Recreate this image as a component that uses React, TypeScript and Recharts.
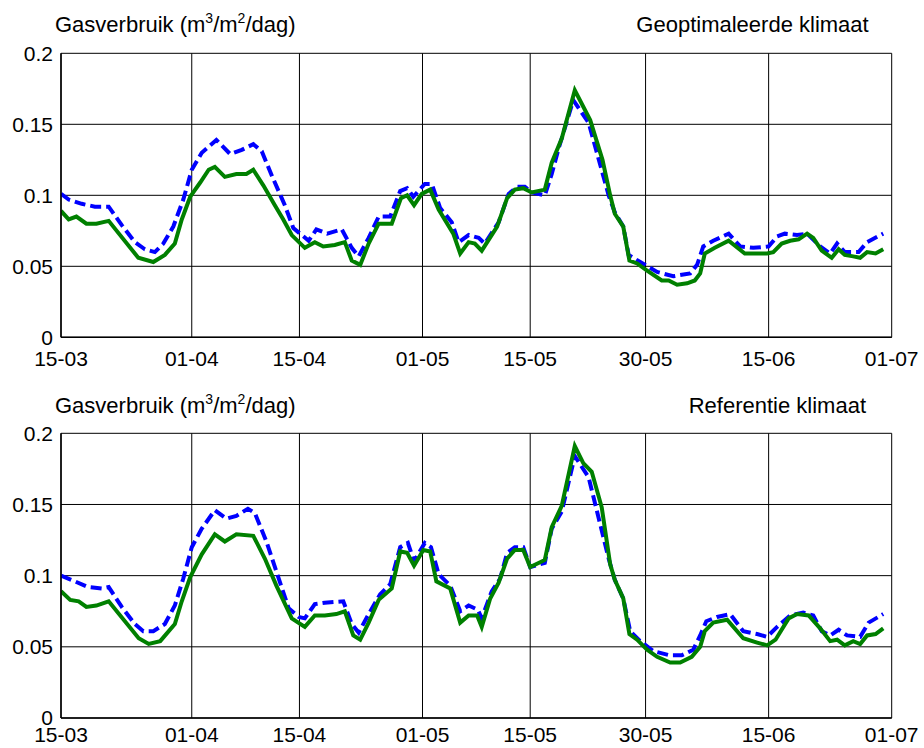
import React from 'react';
import { LineChart, Line, XAxis, YAxis, CartesianGrid } from 'recharts';

const FONT = '"Liberation Sans", Arial, Helvetica, sans-serif';

const tickDays = [0, 17, 31, 47, 61, 76, 92, 108];
const tickLabels = ['15-03', '01-04', '15-04', '01-05', '15-05', '30-05', '15-06', '01-07'];
const yTicks = [0, 0.05, 0.1, 0.15, 0.2];

const panelTitles = ['Geoptimaleerde klimaat', 'Referentie klimaat'];

// Top panel (Geoptimaleerde klimaat)
const topGreenDays = [0, 1.0, 2.0, 3.3, 4.6, 6.2, 10.05, 12.0, 13.5, 14.8, 15.7, 16.8, 18.1, 19.2, 20.0, 21.3, 22.8, 24.1, 25.0, 26.3, 27.8, 28.9, 30.0, 31.7, 33.0, 34.1, 35.6, 36.9, 37.8, 38.9, 40.0, 41.3, 43.0, 44.2, 45.0, 45.9, 46.9, 48.0, 49.1, 51.0, 51.9, 53.0, 53.8, 54.7, 56.7, 58.0, 59.0, 60.1, 61.2, 62.9, 63.8, 65.1, 66.8, 68.8, 70.4, 71.4, 72.0, 73.1, 73.9, 74.9, 76.2, 78.1, 79.0, 80.1, 81.4, 82.4, 83.1, 83.7, 85.0, 86.8, 88.9, 91.8, 92.6, 93.7, 94.8, 95.9, 97.0, 97.8, 98.9, 100.2, 101.1, 101.9, 103.0, 103.9, 104.8, 105.9, 106.9];
const topGreenValues = [0.089, 0.083, 0.085, 0.080, 0.080, 0.082, 0.056, 0.053, 0.058, 0.066, 0.083, 0.099, 0.109, 0.118, 0.120, 0.113, 0.115, 0.115, 0.118, 0.107, 0.093, 0.083, 0.072, 0.063, 0.067, 0.064, 0.065, 0.067, 0.054, 0.051, 0.066, 0.080, 0.080, 0.098, 0.100, 0.093, 0.101, 0.104, 0.090, 0.073, 0.059, 0.067, 0.066, 0.061, 0.078, 0.098, 0.104, 0.105, 0.102, 0.104, 0.123, 0.140, 0.174, 0.153, 0.125, 0.100, 0.087, 0.078, 0.054, 0.052, 0.047, 0.040, 0.040, 0.037, 0.038, 0.040, 0.045, 0.059, 0.063, 0.068, 0.059, 0.059, 0.060, 0.066, 0.068, 0.069, 0.073, 0.070, 0.061, 0.056, 0.062, 0.058, 0.057, 0.056, 0.060, 0.059, 0.062];

const topBlueDays = [0, 1.0, 2.7, 4.4, 6.2, 7.9, 9.6, 10.9, 12.2, 13.3, 14.6, 15.9, 17.0, 18.3, 20.2, 22.0, 23.5, 25.0, 26.1, 27.4, 29.1, 30.2, 32.2, 33.2, 34.6, 36.5, 37.8, 38.7, 40.0, 41.3, 42.8, 44.1, 45.0, 45.8, 47.3, 48.2, 49.3, 50.8, 51.7, 53.0, 54.3, 55.1, 56.9, 58.2, 59.3, 60.3, 61.2, 62.9, 63.8, 64.7, 66.6, 68.6, 71.2, 72.0, 73.1, 73.8, 75.3, 77.5, 79.6, 81.8, 82.7, 83.5, 84.8, 86.8, 88.3, 90.0, 92.0, 93.1, 94.1, 95.7, 97.0, 98.7, 100.0, 100.9, 101.9, 103.7, 104.8, 106.9];
const topBlueValues = [0.101, 0.097, 0.094, 0.092, 0.092, 0.079, 0.067, 0.062, 0.060, 0.066, 0.078, 0.097, 0.118, 0.130, 0.139, 0.129, 0.132, 0.136, 0.131, 0.114, 0.093, 0.077, 0.068, 0.076, 0.073, 0.076, 0.063, 0.057, 0.070, 0.085, 0.085, 0.103, 0.105, 0.099, 0.108, 0.108, 0.091, 0.081, 0.067, 0.072, 0.070, 0.066, 0.081, 0.101, 0.106, 0.106, 0.102, 0.100, 0.115, 0.133, 0.167, 0.151, 0.100, 0.088, 0.078, 0.058, 0.053, 0.046, 0.043, 0.045, 0.051, 0.064, 0.068, 0.073, 0.064, 0.063, 0.064, 0.071, 0.073, 0.072, 0.073, 0.064, 0.059, 0.066, 0.060, 0.060, 0.067, 0.073];

// Bottom panel (Referentie klimaat)
const bottomGreenDays = [0, 1.2, 2.3, 3.3, 4.6, 6.2, 10.1, 11.4, 12.9, 14.8, 15.7, 16.8, 18.3, 20.0, 21.3, 22.8, 25.0, 26.5, 28.0, 30.0, 31.7, 33.0, 34.3, 35.8, 36.9, 38.0, 38.9, 40.0, 41.3, 43.0, 44.1, 45.0, 45.9, 47.1, 48.0, 48.8, 50.6, 51.9, 53.0, 54.1, 54.7, 55.8, 56.9, 58.0, 59.0, 60.1, 61.0, 62.9, 63.8, 65.1, 66.8, 67.9, 69.0, 70.3, 71.4, 72.0, 73.1, 73.9, 74.9, 76.2, 77.5, 79.2, 80.5, 82.0, 83.1, 83.7, 84.8, 86.6, 88.7, 90.5, 91.8, 92.9, 94.6, 95.7, 97.2, 98.7, 100.0, 100.9, 101.9, 103.0, 103.9, 104.8, 105.9, 106.9];
const bottomGreenValues = [0.089, 0.083, 0.082, 0.078, 0.079, 0.082, 0.056, 0.052, 0.054, 0.066, 0.082, 0.099, 0.115, 0.129, 0.124, 0.129, 0.128, 0.112, 0.093, 0.070, 0.064, 0.072, 0.072, 0.073, 0.075, 0.058, 0.055, 0.067, 0.083, 0.091, 0.117, 0.116, 0.107, 0.118, 0.117, 0.096, 0.091, 0.067, 0.072, 0.072, 0.064, 0.084, 0.095, 0.112, 0.118, 0.118, 0.106, 0.111, 0.134, 0.149, 0.191, 0.179, 0.173, 0.148, 0.108, 0.097, 0.084, 0.059, 0.055, 0.048, 0.043, 0.039, 0.039, 0.043, 0.050, 0.061, 0.067, 0.069, 0.056, 0.053, 0.051, 0.055, 0.070, 0.073, 0.072, 0.063, 0.054, 0.055, 0.051, 0.054, 0.052, 0.058, 0.059, 0.063];

const bottomBlueDays = [0, 1.8, 3.5, 5.3, 6.2, 7.9, 9.6, 10.7, 12.0, 13.5, 14.8, 15.9, 17.0, 18.3, 20.0, 21.5, 22.8, 24.3, 25.2, 26.7, 28.0, 29.6, 30.9, 31.7, 33.0, 34.3, 36.7, 37.8, 38.7, 40.0, 41.5, 42.8, 44.1, 45.1, 45.9, 47.3, 48.1, 49.1, 50.6, 51.9, 53.0, 54.2, 54.7, 56.0, 57.1, 58.0, 59.0, 60.1, 61.0, 62.9, 63.8, 65.1, 66.8, 68.6, 71.2, 72.0, 73.1, 74.0, 75.3, 77.0, 79.2, 80.7, 82.2, 83.1, 83.9, 85.3, 87.0, 88.7, 90.5, 91.8, 93.1, 94.8, 96.5, 97.8, 98.9, 100.0, 101.1, 102.2, 103.9, 105.0, 106.9];
const bottomBlueValues = [0.100, 0.096, 0.092, 0.091, 0.092, 0.078, 0.066, 0.061, 0.061, 0.066, 0.079, 0.098, 0.120, 0.133, 0.146, 0.140, 0.142, 0.147, 0.144, 0.124, 0.103, 0.077, 0.071, 0.070, 0.080, 0.081, 0.082, 0.066, 0.060, 0.073, 0.087, 0.094, 0.120, 0.123, 0.110, 0.123, 0.120, 0.101, 0.093, 0.075, 0.079, 0.076, 0.070, 0.089, 0.098, 0.116, 0.120, 0.120, 0.106, 0.109, 0.133, 0.145, 0.184, 0.169, 0.112, 0.097, 0.084, 0.061, 0.054, 0.047, 0.044, 0.044, 0.048, 0.058, 0.068, 0.071, 0.073, 0.061, 0.059, 0.057, 0.064, 0.072, 0.074, 0.072, 0.061, 0.058, 0.062, 0.058, 0.057, 0.067, 0.073];

const toData = (days: number[], values: number[]) => days.map((d, i) => ({ day: d, value: values[i] }));

const W = 924;
const H = 374;
const PLOT_LEFT = 61;
const PLOT_RIGHT = 891.7;
const Y_AXIS_W = 50;
const X_AXIS_H = 26;

function Panel({ green, blue, plotTop, plotBottom, xTickGap }: { green: any[]; blue: any[]; plotTop: number; plotBottom: number; xTickGap: number }) {
  return (
    <LineChart
      width={W}
      height={H}
      margin={{ top: plotTop, right: W - PLOT_RIGHT, bottom: H - plotBottom - X_AXIS_H, left: PLOT_LEFT - Y_AXIS_W }}
      style={{ overflow: 'visible' }}
    >
      <CartesianGrid stroke="#000" strokeWidth={1} />
      <XAxis
        type="number"
        dataKey="day"
        domain={[0, 108]}
        ticks={tickDays}
        interval={0}
        allowDataOverflow
        height={X_AXIS_H}
        tickLine={false}
        tickSize={0}
        tickMargin={xTickGap}
        axisLine={{ stroke: '#000', strokeWidth: 1.5 }}
        tick={{ fill: '#000', fontSize: 21, fontFamily: FONT }}
        tickFormatter={(v: number) => tickLabels[tickDays.indexOf(v)]}
      />
      <YAxis
        type="number"
        domain={[0, 0.2]}
        ticks={yTicks}
        interval={0}
        width={Y_AXIS_W}
        tickLine={false}
        tickSize={0}
        tickMargin={8}
        axisLine={{ stroke: '#000', strokeWidth: 1.5 }}
        tick={{ fill: '#000', fontSize: 21, fontFamily: FONT }}
        tickFormatter={(v: number) => String(v)}
      />
      <Line data={blue} dataKey="value" type="linear" stroke="#0000ff" strokeWidth={4} strokeDasharray="11 5" dot={false} isAnimationActive={false} />
      <Line data={green} dataKey="value" type="linear" stroke="#008000" strokeWidth={4} dot={false} isAnimationActive={false} />
    </LineChart>
  );
}

function YLabel({ y }: { y: number }) {
  return (
    <text x={55} y={y} fontSize={22} fontFamily={FONT} fill="#000">
      Gasverbruik (m
      <tspan dy={-9} fontSize={14}>3</tspan>
      <tspan dy={9}>/m</tspan>
      <tspan dy={-9} fontSize={14}>2</tspan>
      <tspan dy={9}>/dag)</tspan>
    </text>
  );
}

export default function App() {
  return (
    <div style={{ position: 'absolute', left: 0, top: 0, width: W, height: 748, background: '#fff' }}>
      <div style={{ position: 'absolute', left: 0, top: 0 }}>
        <Panel green={toData(topGreenDays, topGreenValues)} blue={toData(topBlueDays, topBlueValues)} plotTop={53.3} plotBottom={337.3} xTickGap={14} />
      </div>
      <div style={{ position: 'absolute', left: 0, top: 374 }}>
        <Panel green={toData(bottomGreenDays, bottomGreenValues)} blue={toData(bottomBlueDays, bottomBlueValues)} plotTop={59.3} plotBottom={344} xTickGap={9} />
      </div>
      <svg width={W} height={748} style={{ position: 'absolute', left: 0, top: 0, pointerEvents: 'none' }}>
        <YLabel y={31.7} />
        <text x={868.7} y={31.7} fontSize={22} fontFamily={FONT} fill="#000" textAnchor="end">{panelTitles[0]}</text>
        <YLabel y={413.3} />
        <text x={866} y={413.3} fontSize={22} fontFamily={FONT} fill="#000" textAnchor="end">{panelTitles[1]}</text>
      </svg>
    </div>
  );
}
